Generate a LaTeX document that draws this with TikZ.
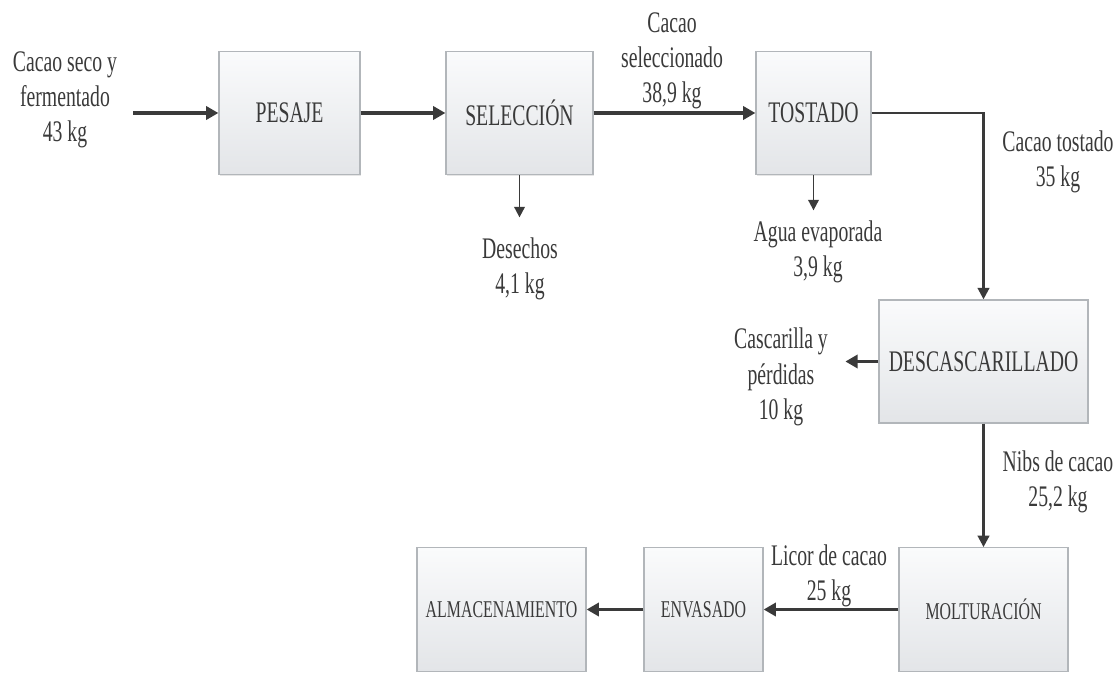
\documentclass[tikz,border=0pt]{standalone}
\usepackage{fontspec}
\setmainfont{Liberation Serif}[FakeStretch=0.66]
\usepackage{tikz}
\usetikzlibrary{arrows.meta,shadows}

\definecolor{tinta}{HTML}{3A3A3A}
\definecolor{borde}{HTML}{B2B6BA}
\definecolor{cajaArriba}{HTML}{FAFBFC}
\definecolor{cajaAbajo}{HTML}{E3E5E8}

\begin{document}
\begin{tikzpicture}[every node/.style={font=\fontsize{17}{20}\selectfont, text=tinta},
	caja/.style={draw=borde, line width=0.7pt, top color=cajaArriba, bottom color=cajaAbajo, minimum height=2.47cm, inner sep=0pt, drop shadow={shadow xshift=0.7pt, shadow yshift=-0.7pt, opacity=0.2}},
	cajita/.style={caja, font=\fontsize{13.7}{16}\selectfont},
	etiq/.style={align=center, inner sep=0pt},
	flecha/.style={draw=tinta, line width=1.8pt, -{Triangle[length=7pt, width=7.5pt]}},
	flechaMed/.style={draw=tinta, line width=1.4pt, -{Triangle[length=6.5pt, width=6.5pt]}},
	flechaFina/.style={draw=tinta, line width=1.1pt, -{Triangle[length=6pt, width=6pt]}}]
	\useasboundingbox (0,0) rectangle (22.38,-13.46);

	% fila de arriba
	\node[caja, minimum width=2.82cm] (pesaje) at (5.79,-2.26) {PESAJE};
	\node[caja, minimum width=2.94cm] (seleccion) at (10.39,-2.26) {SELECCIÓN};
	\node[caja, minimum width=2.30cm] (tostado) at (16.27,-2.26) {TOSTADO};
	\node[caja, minimum width=4.18cm, minimum height=2.46cm] (descas) at (19.67,-7.23) {DESCASCARILLADO};
	% fila de abajo
	\node[cajita, minimum width=3.38cm] (molt) at (19.67,-12.19) {MOLTURACIÓN};
	\node[cajita, minimum width=2.38cm] (envasado) at (14.07,-12.19) {ENVASADO};
	\node[cajita, minimum width=3.38cm] (almac) at (10.03,-12.19) {ALMACENAMIENTO};

	% textos de las corrientes
	\node[etiq] (entrada) at (1.30,-2.00) {Cacao seco y\\fermentado\\43 kg};
	\node[etiq] (cacaoSel) at (13.44,-1.22) {Cacao\\seleccionado\\38,9 kg};
	\node[etiq] (desechos) at (10.40,-5.37) {Desechos\\4,1 kg};
	\node[etiq] (agua) at (16.36,-5.03) {Agua evaporada\\3,9 kg};
	\node[etiq] (cacaoTost) at (21.16,-3.23) {Cacao tostado\\35 kg};
	\node[etiq] (cascarilla) at (15.62,-7.54) {Cascarilla y\\pérdidas\\10 kg};
	\node[etiq] (nibs) at (21.16,-9.63) {Nibs de cacao\\25,2 kg};
	\node[etiq] (licor) at (16.58,-11.51) {Licor de cacao\\25 kg};

	\coordinate (ini) at (2.66,-2.26);
	\draw[flecha] (ini) -- (pesaje);
	\draw[flecha] (pesaje) -- (seleccion);
	\draw[flecha] (seleccion) -- (tostado);
	\draw[flechaFina] (seleccion.south) -- ++(0,-0.84);
	\draw[flechaFina] (tostado.south) -- ++(0,-0.70);
	\draw[flechaMed] (tostado.east) -| (descas.north);
	\draw[flecha] (descas.west) -- ++(-0.66,0);
	\draw[flechaMed] (descas) -- (molt);
	\draw[flecha] (molt) -- (envasado);
	\draw[flecha] (envasado) -- (almac);
\end{tikzpicture}
\end{document}
